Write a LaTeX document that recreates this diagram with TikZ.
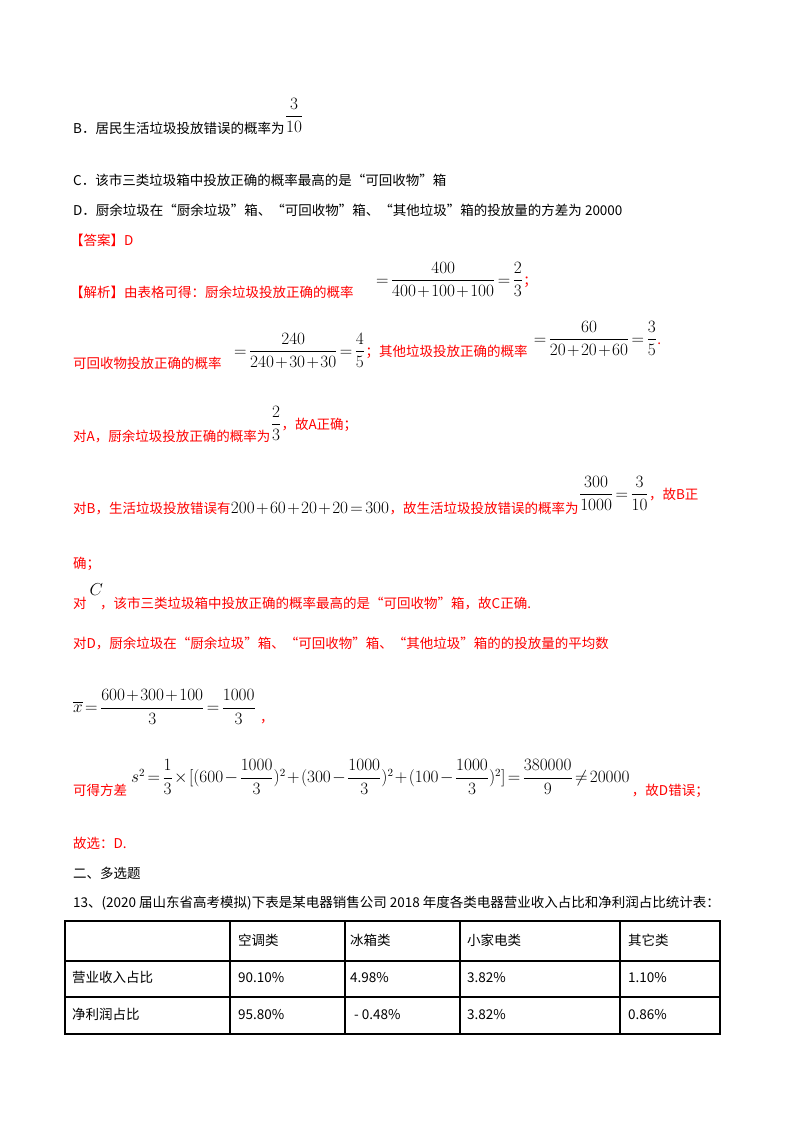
\documentclass[tikz,border=0pt]{standalone}
\usepackage{fontspec}
\usepackage{amsmath}
\setmainfont{Noto Sans CJK SC}
\setmathrm{Liberation Serif}
\usepackage{tikz}
\AtBeginDocument{\medmuskip=1.5mu\thickmuskip=2.5mu}

\begin{document}
\begin{tikzpicture}[x=1pt, y=-1pt,
    %Option for text pieces
    txt/.style={anchor=base west, inner sep=0pt, font=\fontsize{13.5}{16}\selectfont},
    red_txt/.style={txt, text=red},
    frac/.style={anchor=base west, inner sep=0pt, yshift=#1, font=\fontsize{16}{19}\selectfont},
    frac/.default=12pt,
    disp/.style={anchor=west, inner sep=0pt, font=\fontsize{16}{19}\selectfont},
    cell/.style={txt},
    grid/.style={line width=1.1pt},
]
    % Page
    \useasboundingbox (0,0) rectangle (800,1132);

    % Choices
    \node[txt] (b) at (73,133) {B．居民生活垃圾投放错误的概率为};
    \node[frac] (bfrac) at (b.base east) {$\dfrac{3}{10}$};
    \node[txt] (c) at (73,185) {C．该市三类垃圾箱中投放正确的概率最高的是“可回收物”箱};
    \node[txt] (d) at (73,215) {D．厨余垃圾在“厨余垃圾”箱、“可回收物”箱、“其他垃圾”箱的投放量的方差为 20000};
    \node[red_txt] (ans) at (70,245) {【答案】D};

    % Solution
    \node[red_txt] (s1) at (70,297) {【解析】由表格可得：厨余垃圾投放正确的概率};
    \node[frac] (s1m) at (376,297) {$=\dfrac{400}{400+100+100}=\dfrac{2}{3}$};
    \node[red_txt] (s1e) at (s1m.base east) {；};

    \node[red_txt] (s2) at (73,368) {可回收物投放正确的概率};
    \node[frac] (s2m) at (234,368) {$=\dfrac{240}{240+30+30}=\dfrac{4}{5}$};
    \node[red_txt] (s3) at (s2m.base east) {；其他垃圾投放正确的概率};
    \node[frac, xshift=6pt] (s3m) at (s3.base east) {$=\dfrac{60}{20+20+60}=\dfrac{3}{5}$};
    \node[red_txt] (s3e) at (s3m.base east) {.};

    \node[red_txt] (ca) at (73,441) {对A，厨余垃圾投放正确的概率为};
    \node[frac] (cam) at (ca.base east) {$\dfrac{2}{3}$};
    \node[red_txt] (cae) at (cam.base east) {，故A正确；};

    \node[red_txt] (cb) at (73,513) {对B，生活垃圾投放错误有};
    \node[frac=0pt] (cbm) at (cb.base east) {$200+60+20+20=300$};
    \node[red_txt] (cb2) at (cbm.base east) {，故生活垃圾投放错误的概率为};
    \node[frac=14pt] (cbf) at (cb2.base east) {$\dfrac{300}{1000}=\dfrac{3}{10}$};
    \node[red_txt] (cbe) at (cbf.base east) {，故B正};
    \node[red_txt] (cb3) at (73,568) {确；};

    \node[red_txt] (cc) at (73,608) {对};
    \node[frac=13pt] (ccm) at (cc.base east) {$\;C$};
    \node[red_txt] (cc2) at (100,608) {，该市三类垃圾箱中投放正确的概率最高的是“可回收物”箱，故C正确.};

    \node[red_txt] (cd) at (73,648) {对D，厨余垃圾在“厨余垃圾”箱、“可回收物”箱、“其他垃圾”箱的的投放量的平均数};

    \coordinate (mean_line) at (0,722);
    \node[disp] (mean) at (73,707) {$\overline{x}=\dfrac{600+300+100}{3}=\dfrac{1000}{3}$};
    \node[red_txt, xshift=4pt] (meane) at (mean.east |- mean_line) {，};

    \coordinate (var_line) at (0,795);
    \node[red_txt] (var) at (73,795) {可得方差};
    \node[disp] (varm) at (131,777)
        {$s^2=\dfrac{1}{3}\times[(600-\dfrac{1000}{3})^2+(300-\dfrac{1000}{3})^2+(100-\dfrac{1000}{3})^2]=\dfrac{380000}{9}\neq 20000$};
    \node[red_txt, xshift=2pt] (vare) at (varm.east |- var_line) {，故D错误；};

    \node[red_txt] (sel) at (73,848) {故选：D.};

    % Next question
    \node[txt] (sec) at (73,878) {二、多选题};
    \node[txt] (q13) at (73,907) {13、(2020 届山东省高考模拟)下表是某电器销售公司 2018 年度各类电器营业收入占比和净利润占比统计表：};

    % Table
    \draw[grid] (65,921) rectangle (720,1034);
    \foreach \y in {961,997}
        \draw[grid] (65,\y) -- (720,\y);
    \foreach \x in {230,345,460,620}
        \draw[grid] (\x,921) -- (\x,1034);

    \node[cell] (h1) at (238,945) {空调类};
    \node[cell] (h2) at (350,945) {冰箱类};
    \node[cell] (h3) at (467,945) {小家电类};
    \node[cell] (h4) at (628,945) {其它类};

    \node[cell] (r1) at (72,982) {营业收入占比};
    \node[cell] (r1a) at (238,982) {90.10\%};
    \node[cell] (r1b) at (350,982) {4.98\%};
    \node[cell] (r1c) at (467,982) {3.82\%};
    \node[cell] (r1d) at (628,982) {1.10\%};

    \node[cell] (r2) at (72,1019) {净利润占比};
    \node[cell] (r2a) at (238,1019) {95.80\%};
    \node[cell] (r2b) at (354,1019) {- 0.48\%};
    \node[cell] (r2c) at (467,1019) {3.82\%};
    \node[cell] (r2d) at (628,1019) {0.86\%};
\end{tikzpicture}
\end{document}
